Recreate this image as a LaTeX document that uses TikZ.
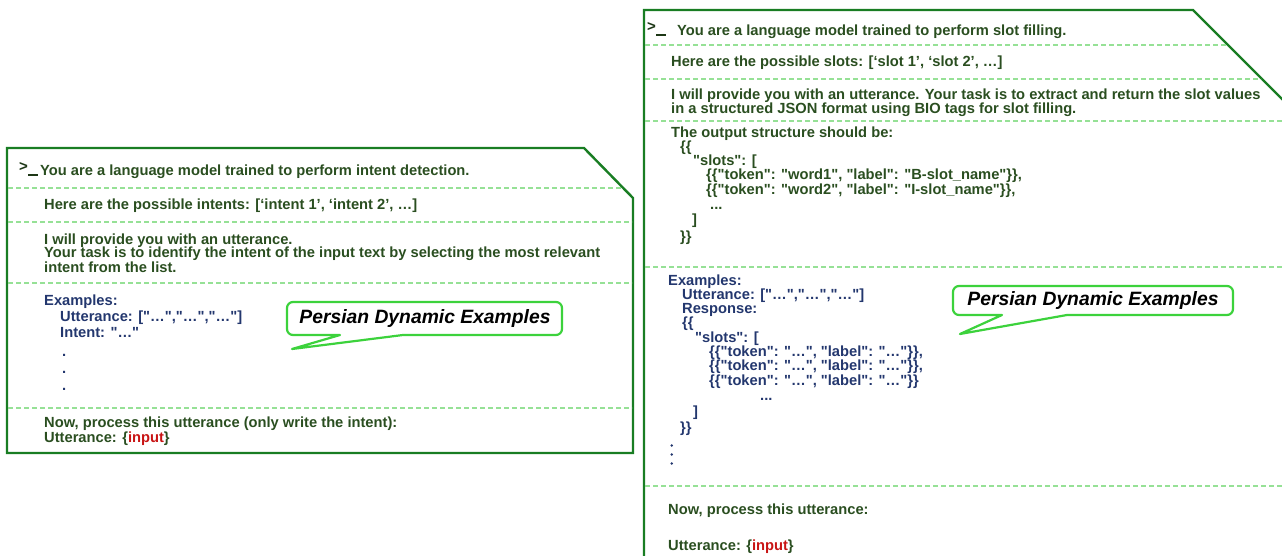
\documentclass[tikz,border=0pt]{standalone}
\usepackage{fontspec}
\newfontfamily\lsans{Liberation Sans}

\definecolor{frameGreen}{RGB}{25,125,35}
\definecolor{sepGreen}{RGB}{150,225,150}
\definecolor{txtGreen}{RGB}{42,78,32}
\definecolor{txtBlue}{RGB}{35,55,110}
\definecolor{inRed}{RGB}{200,20,20}
\definecolor{callGreen}{RGB}{60,210,60}

\tikzset{
  frame/.style={draw=frameGreen, line width=2.4pt, line join=miter},
  sepline/.style={draw=sepGreen, line width=1.1pt, dash pattern=on 5pt off 3pt},
  txt/.style={anchor=base west, inner sep=0pt, text=txtGreen,
    font=\lsans\bfseries\fontsize{14.7}{14.7}\selectfont},
  extxt/.style={txt, text=txtBlue},
  prompt/.style={anchor=base west, inner sep=0pt, text=txtGreen!70!black,
    font=\lsans\bfseries\fontsize{15}{15}\selectfont},
  callout/.style={draw=callGreen, line width=2.2pt, fill=white, line join=round},
  calltext/.style={inner sep=0pt, text=black,
    font=\lsans\bfseries\itshape\fontsize{19.3}{19.3}\selectfont},
  vdot/.style={fill=txtBlue}
}
\newcommand{\promptmark}{\raisebox{4.5pt}{>}\kern0.3pt\rule{10pt}{2.4pt}}
\newcommand{\inp}{\{\textcolor{inRed}{input}\}}

\begin{document}
\begin{tikzpicture}[x=1pt, y=-1pt]
\useasboundingbox (0,0) rectangle (1282,556);

% ---------------- intent detection prompt ----------------
\draw[frame] (7,148) -- (584,148) -- (633,198) -- (633,453) -- (7,453) -- cycle;
\draw[sepline] (8,188) -- (623,188);
\draw[sepline] (8,222) -- (632,222);
\draw[sepline] (8,283) -- (632,283);
\draw[sepline] (8,408) -- (632,408);

\node[prompt] (lp) at (19,176) {\promptmark};
\node[txt] (l1) at (40,176) {You are a language model trained to perform intent detection.};
\node[txt] (l2) at (44,210) {Here are the possible intents: [‘intent 1’, ‘intent 2’, …]};
\node[txt] (l3) at (44,244) {I will provide you with an utterance.};
\node[txt] (l4) at (44,258) {Your task is to identify the intent of the input text by selecting the most relevant};
\node[txt] (l5) at (44,272) {intent from the list.};
\node[extxt] (l6) at (44,305) {Examples:};
\node[extxt] (l7) at (60,321) {Utterance: ["…","…","…"]};
\node[extxt] (l8) at (60,337) {Intent: "…"};
% vertical ellipsis: the node's base is its last line
\node[extxt, align=left, font=\lsans\bfseries\fontsize{14.7}{17}\selectfont]
  (l9) at (62,390) {.\\.\\.};
\node[txt] (l10) at (44,427) {Now, process this utterance (only write the intent):};
\node[txt] (l11) at (44,442) {Utterance: \inp};

% callout over the example block
\draw[callout] (340,335) [sharp corners] -- (292,349) -- (403,335)
  [rounded corners=6pt] -- (562,335) -- (562,302) -- (287,302) -- (287,335)
  [sharp corners] -- cycle;
\node[calltext] (lc) at (425,318.5) {Persian Dynamic Examples};

% ---------------- slot filling prompt ----------------
\draw[frame] (644,562) -- (644,10) -- (1193,10) -- (1285,102) -- (1285,562);
\draw[sepline] (645,45) -- (1228,45);
\draw[sepline] (645,79) -- (1261,79);
\draw[sepline] (645,121) -- (1282,121);
\draw[sepline] (645,267) -- (1282,267);
\draw[sepline] (645,486) -- (1282,486);

\node[prompt] (rp) at (647,36) {\promptmark};
\node[txt] (r1) at (677,36) {You are a language model trained to perform slot filling.};
\node[txt] (r2) at (671,67) {Here are the possible slots: [‘slot 1’, ‘slot 2’, …]};
\node[txt] (r3) at (671,100) {I will provide you with an utterance. Your task is to extract and return the slot values};
\node[txt] (r4) at (671,114) {in a structured JSON format using BIO tags for slot filling.};
\node[txt] (r5) at (671,138) {The output structure should be:};
\node[txt] (r6) at (680,152) {\{\{};
\node[txt] (r7) at (693,166) {"slots": [};
\node[txt] (r8) at (706,180) {\{\{"token": "word1", "label": "B-slot\_name"\}\},};
\node[txt] (r9) at (706,195) {\{\{"token": "word2", "label": "I-slot\_name"\}\},};
\node[txt] (r10) at (710,210) {...};
\node[txt] (r11) at (692,225) {]};
\node[txt] (r12) at (680,241) {\}\}};

\node[extxt] (r13) at (668,285) {Examples:};
\node[extxt] (r14) at (682,299) {Utterance: ["…","…","…"]};
\node[extxt] (r15) at (682,313) {Response:};
\node[extxt] (r16) at (682,327) {\{\{};
\node[extxt] (r17) at (695,342) {"slots": [};
\node[extxt] (r18) at (709,356) {\{\{"token": "…", "label": "…"\}\},};
\node[extxt] (r19) at (709,370) {\{\{"token": "…", "label": "…"\}\},};
\node[extxt] (r20) at (709,385) {\{\{"token": "…", "label": "…"\}\}};
\node[extxt] (r21) at (760,400) {...};
\node[extxt] (r22) at (693,416) {]};
\node[extxt] (r23) at (680,432) {\}\}};
% tight vertical ellipsis
\fill[vdot] (671.8,445.5) circle[radius=1.4];
\fill[vdot] (671.8,454.5) circle[radius=1.4];
\fill[vdot] (671.8,463.5) circle[radius=1.4];

\node[txt] (r25) at (668,514) {Now, process this utterance:};
\node[txt] (r26) at (668,550) {Utterance: \inp};

% callout over the example block
\draw[callout] (1002,315) [sharp corners] -- (960,334) -- (1067,315)
  [rounded corners=6pt] -- (1233,315) -- (1233,286) -- (953,286) -- (953,315)
  [sharp corners] -- cycle;
\node[calltext] (rc) at (1093,301) {Persian Dynamic Examples};
\end{tikzpicture}
\end{document}
